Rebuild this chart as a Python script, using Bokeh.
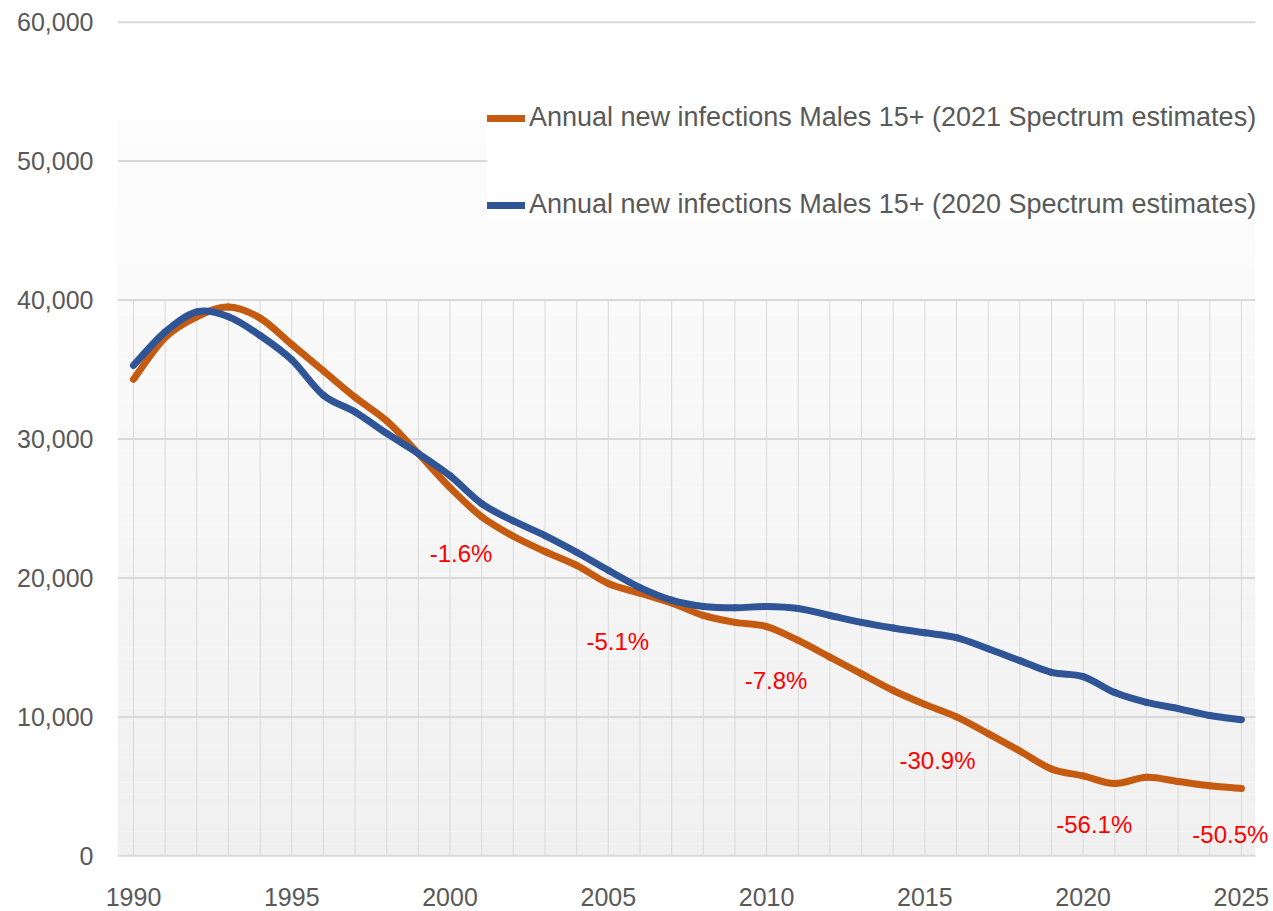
from bokeh.plotting import figure
from bokeh.models import ColumnDataSource, LabelSet, Legend, LegendItem, FixedTicker, NumeralTickFormatter, Range1d
from bokeh.core.properties import value
from bokeh.embed import file_html
from bokeh.resources import INLINE

years = list(range(1990, 2026))
infections_2021 = [34300, 37300, 38800, 39500, 38700, 36800, 34900, 33000, 31300, 28950,
                   26500, 24400, 23000, 21900, 20900, 19600, 18900, 18200, 17300, 16800,
                   16500, 15500, 14300, 13100, 11900, 10900, 10000, 8800, 7550, 6250,
                   5750, 5200, 5650, 5350, 5050, 4850]
infections_2020 = [35300, 37700, 39150, 38800, 37450, 35700, 33150, 31950, 30400, 28950,
                   27350, 25350, 24100, 23050, 21850, 20550, 19300, 18400, 17950, 17850,
                   17950, 17800, 17300, 16800, 16400, 16050, 15700, 14900, 14050, 13200,
                   12900, 11750, 11050, 10600, 10100, 9800]
series_names = ["Annual new infections Males 15+ (2021 Spectrum estimates)",
                "Annual new infections Males 15+ (2020 Spectrum estimates)"]
pct_labels = ["-1.6%", "-5.1%", "-7.8%", "-30.9%", "-56.1%", "-50.5%"]
pct_years = [2000.35, 2005.3, 2010.3, 2015.4, 2020.35, 2024.65]
pct_values = [21750, 15400, 12600, 6850, 2250, 1500]
x_ticks = [1990, 1995, 2000, 2005, 2010, 2015, 2020, 2025]
y_ticks = [0, 10000, 20000, 30000, 40000, 50000, 60000]

FONT = "Liberation Sans"
GRAY = "#595959"
GRID = "#d9d9d9"
ORANGE = "#c55a11"
BLUE = "#2f5597"


def smooth_segments(xs, ys):
    """Cubic Bezier pieces (Catmull-Rom style) passing through every data point."""
    n = len(xs)
    out = dict(x0=[], y0=[], x1=[], y1=[], cx0=[], cy0=[], cx1=[], cy1=[])
    for i in range(n - 1):
        xp, yp = (xs[i - 1], ys[i - 1]) if i > 0 else (xs[i], ys[i])
        xn, yn = (xs[i + 2], ys[i + 2]) if i + 2 < n else (xs[i + 1], ys[i + 1])
        out["x0"].append(xs[i]); out["y0"].append(ys[i])
        out["x1"].append(xs[i + 1]); out["y1"].append(ys[i + 1])
        out["cx0"].append(xs[i] + (xs[i + 1] - xp) / 6.0)
        out["cy0"].append(ys[i] + (ys[i + 1] - yp) / 6.0)
        out["cx1"].append(xs[i + 1] - (xn - xs[i]) / 6.0)
        out["cy1"].append(ys[i + 1] - (yn - ys[i]) / 6.0)
    return out


# plotting area edges (the grid spans gx0..gx1; the frame is a little wider so labels are not cut)
gx0, gx1 = 1989.495, 2025.44
p = figure(width=1273, height=911, output_backend="svg", toolbar_location=None,
           x_range=Range1d(gx0, 2025.95), y_range=Range1d(-120, 60120),
           min_border_left=117, min_border_right=2, min_border_top=20, min_border_bottom=54)
p.outline_line_color = None
p.background_fill_color = "white"
p.border_fill_color = "white"

# gradient background (white near top to light gray at bottom)
nb = 60
top_v = 53000
bb, bt, bc = [], [], []
for i in range(nb):
    t = (i + 0.5) / nb
    c = int(round(240 + (253 - 240) * t))
    bb.append(top_v * i / nb); bt.append(top_v * (i + 1) / nb)
    bc.append("#%02x%02x%02x" % (c, c, c))
p.quad(left=gx0, right=gx1, bottom=bb, top=bt, fill_color=bc, line_color=None)

# horizontal grid lines
p.segment(x0=[gx0] * len(y_ticks), y0=y_ticks, x1=[gx1] * len(y_ticks), y1=y_ticks,
          line_color=GRID, line_width=2)
# vertical year lines from 0 to 40000
p.segment(x0=years, y0=[0] * len(years), x1=years, y1=[40000] * len(years),
          line_color=GRID, line_width=1)

r21 = p.bezier(source=ColumnDataSource(smooth_segments(years, infections_2021)),
               x0="x0", y0="y0", x1="x1", y1="y1", cx0="cx0", cy0="cy0", cx1="cx1", cy1="cy1",
               line_color=ORANGE, line_width=7, line_cap="round")
r20 = p.bezier(source=ColumnDataSource(smooth_segments(years, infections_2020)),
               x0="x0", y0="y0", x1="x1", y1="y1", cx0="cx0", cy0="cy0", cx1="cx1", cy1="cy1",
               line_color=BLUE, line_width=7, line_cap="round")

lab_src = ColumnDataSource(dict(x=pct_years, y=pct_values, t=pct_labels))
p.add_layout(LabelSet(x="x", y="y", text="t", source=lab_src, text_color="#ff0000",
                      text_font=value(FONT), text_font_size="24px", text_align="center",
                      text_baseline="middle"))

legend = Legend(items=[LegendItem(label=series_names[0], renderers=[r21]),
                       LegendItem(label=series_names[1], renderers=[r20])],
                location=(370, 637), orientation="vertical",
                label_text_font=FONT, label_text_font_size="27px", label_text_color=GRAY,
                glyph_width=38, glyph_height=30, label_height=30, label_standoff=4,
                spacing=56, padding=12, margin=0,
                background_fill_color="white", background_fill_alpha=1.0,
                border_line_color=None)
p.add_layout(legend)

p.xgrid.grid_line_color = None
p.ygrid.grid_line_color = None

p.xaxis.ticker = FixedTicker(ticks=x_ticks)
p.yaxis.ticker = FixedTicker(ticks=y_ticks)
p.yaxis.formatter = NumeralTickFormatter(format="0,0")
for ax in (p.xaxis[0], p.yaxis[0]):
    ax.major_tick_line_color = None
    ax.minor_tick_line_color = None
    ax.axis_line_color = None
    ax.major_label_text_font = FONT
    ax.major_label_text_font_size = "25px"
    ax.major_label_text_color = GRAY
p.yaxis.major_label_standoff = 18
p.xaxis.major_label_standoff = 24

open("out.html", "w").write(file_html(p, INLINE))
